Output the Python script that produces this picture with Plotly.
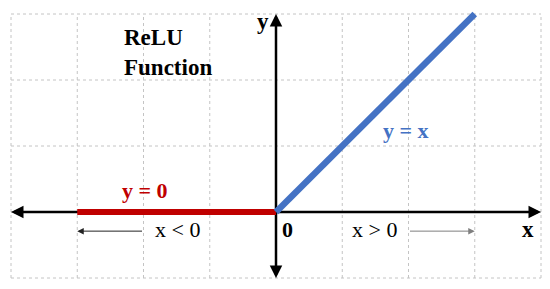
import plotly.graph_objects as go

# Data
relu_neg_x = [-3, 0]
relu_neg_y = [0, 0]
relu_pos_x = [0, 3]
relu_pos_y = [0, 3]
grid_x = [-4, -3, -2, -1, 0, 1, 2, 3, 4]
grid_y = [-1, 0, 1, 2, 3]
x_axis_span = [-4, 4]
y_axis_span = [-1, 3]

SERIF = "Liberation Serif"

fig = go.Figure()

shapes = []
for gx in grid_x:
    shapes.append(dict(type="line", xref="x", yref="y", x0=gx, x1=gx,
                       y0=grid_y[0], y1=grid_y[-1], layer="below",
                       line=dict(color="#c4c4c4", width=1, dash="dot")))
for gy in grid_y:
    shapes.append(dict(type="line", xref="x", yref="y", x0=grid_x[0], x1=grid_x[-1],
                       y0=gy, y1=gy, layer="below",
                       line=dict(color="#c4c4c4", width=1, dash="dot")))
# axis lines (below the traces)
shapes.append(dict(type="line", xref="x", yref="y", x0=x_axis_span[0] + 0.1, x1=x_axis_span[1] - 0.1,
                   y0=0, y1=0, layer="below", line=dict(color="black", width=2.5)))
shapes.append(dict(type="line", xref="x", yref="y", x0=0, x1=0,
                   y0=y_axis_span[0] + 0.1, y1=y_axis_span[1] - 0.1, layer="below",
                   line=dict(color="black", width=2.5)))

fig.add_trace(go.Scatter(x=relu_neg_x, y=relu_neg_y, mode="lines",
                         line=dict(color="#C00000", width=6), hoverinfo="skip"))
fig.add_trace(go.Scatter(x=relu_pos_x, y=relu_pos_y, mode="lines",
                         line=dict(color="#4472C4", width=6.5), hoverinfo="skip"))

annotations = []
def head(x, y, ax, ay, color="black", width=2.5, size=1.0):
    return dict(x=x, y=y, ax=ax, ay=ay, xref="x", yref="y", axref="x", ayref="y",
                text="", showarrow=True, arrowhead=2, arrowwidth=width,
                arrowsize=size, arrowcolor=color)

annotations.append(head(x_axis_span[1], 0, x_axis_span[1] - 0.15, 0))
annotations.append(head(x_axis_span[0], 0, x_axis_span[0] + 0.15, 0))
annotations.append(head(0, y_axis_span[1], 0, y_axis_span[1] - 0.15))
annotations.append(head(0, y_axis_span[0], 0, y_axis_span[0] + 0.15))
# thin range arrows
annotations.append(head(-3, -0.29, -2, -0.29, color="#222222", width=1, size=1.3))
annotations.append(head(3, -0.29, 2, -0.29, color="#7f7f7f", width=1, size=1.3))

def txt(x, y, s, size, color="black", bold=True, **kw):
    d = dict(x=x, y=y, xref="x", yref="y", text=(f"<b>{s}</b>" if bold else s),
             showarrow=False,
             font=dict(family=SERIF, size=size, color=color))
    d.update(kw)
    return d

annotations.append(txt(-2.32, 2.41, "ReLU<br>Function", 23, xanchor="left", align="left"))
annotations.append(txt(-0.2, 2.88, "y", 23))
annotations.append(txt(3.8, -0.26, "x", 23))
annotations.append(txt(0.18, -0.26, "0", 22))
annotations.append(txt(1.96, 1.24, "y = x", 22, color="#4472C4"))
annotations.append(txt(-1.98, 0.33, "y = 0", 22, color="#C00000"))
annotations.append(txt(-1.49, -0.27, "x &lt; 0", 22, bold=False))
annotations.append(txt(1.49, -0.27, "x &gt; 0", 22, bold=False))

fig.update_layout(
    width=550, height=289,
    margin=dict(l=0, r=0, t=0, b=0),
    paper_bgcolor="white", plot_bgcolor="white",
    showlegend=False,
    shapes=shapes, annotations=annotations,
    xaxis=dict(range=[-4 - 11 / 66.25, 4 + 9 / 66.25], visible=False, fixedrange=True),
    yaxis=dict(range=[-1 - 11 / 66, 3 + 14 / 66], visible=False, fixedrange=True),
)

fig.write_html("out.html", config={"displayModeBar": False},
               post_script="document.body.style.margin='0';")
